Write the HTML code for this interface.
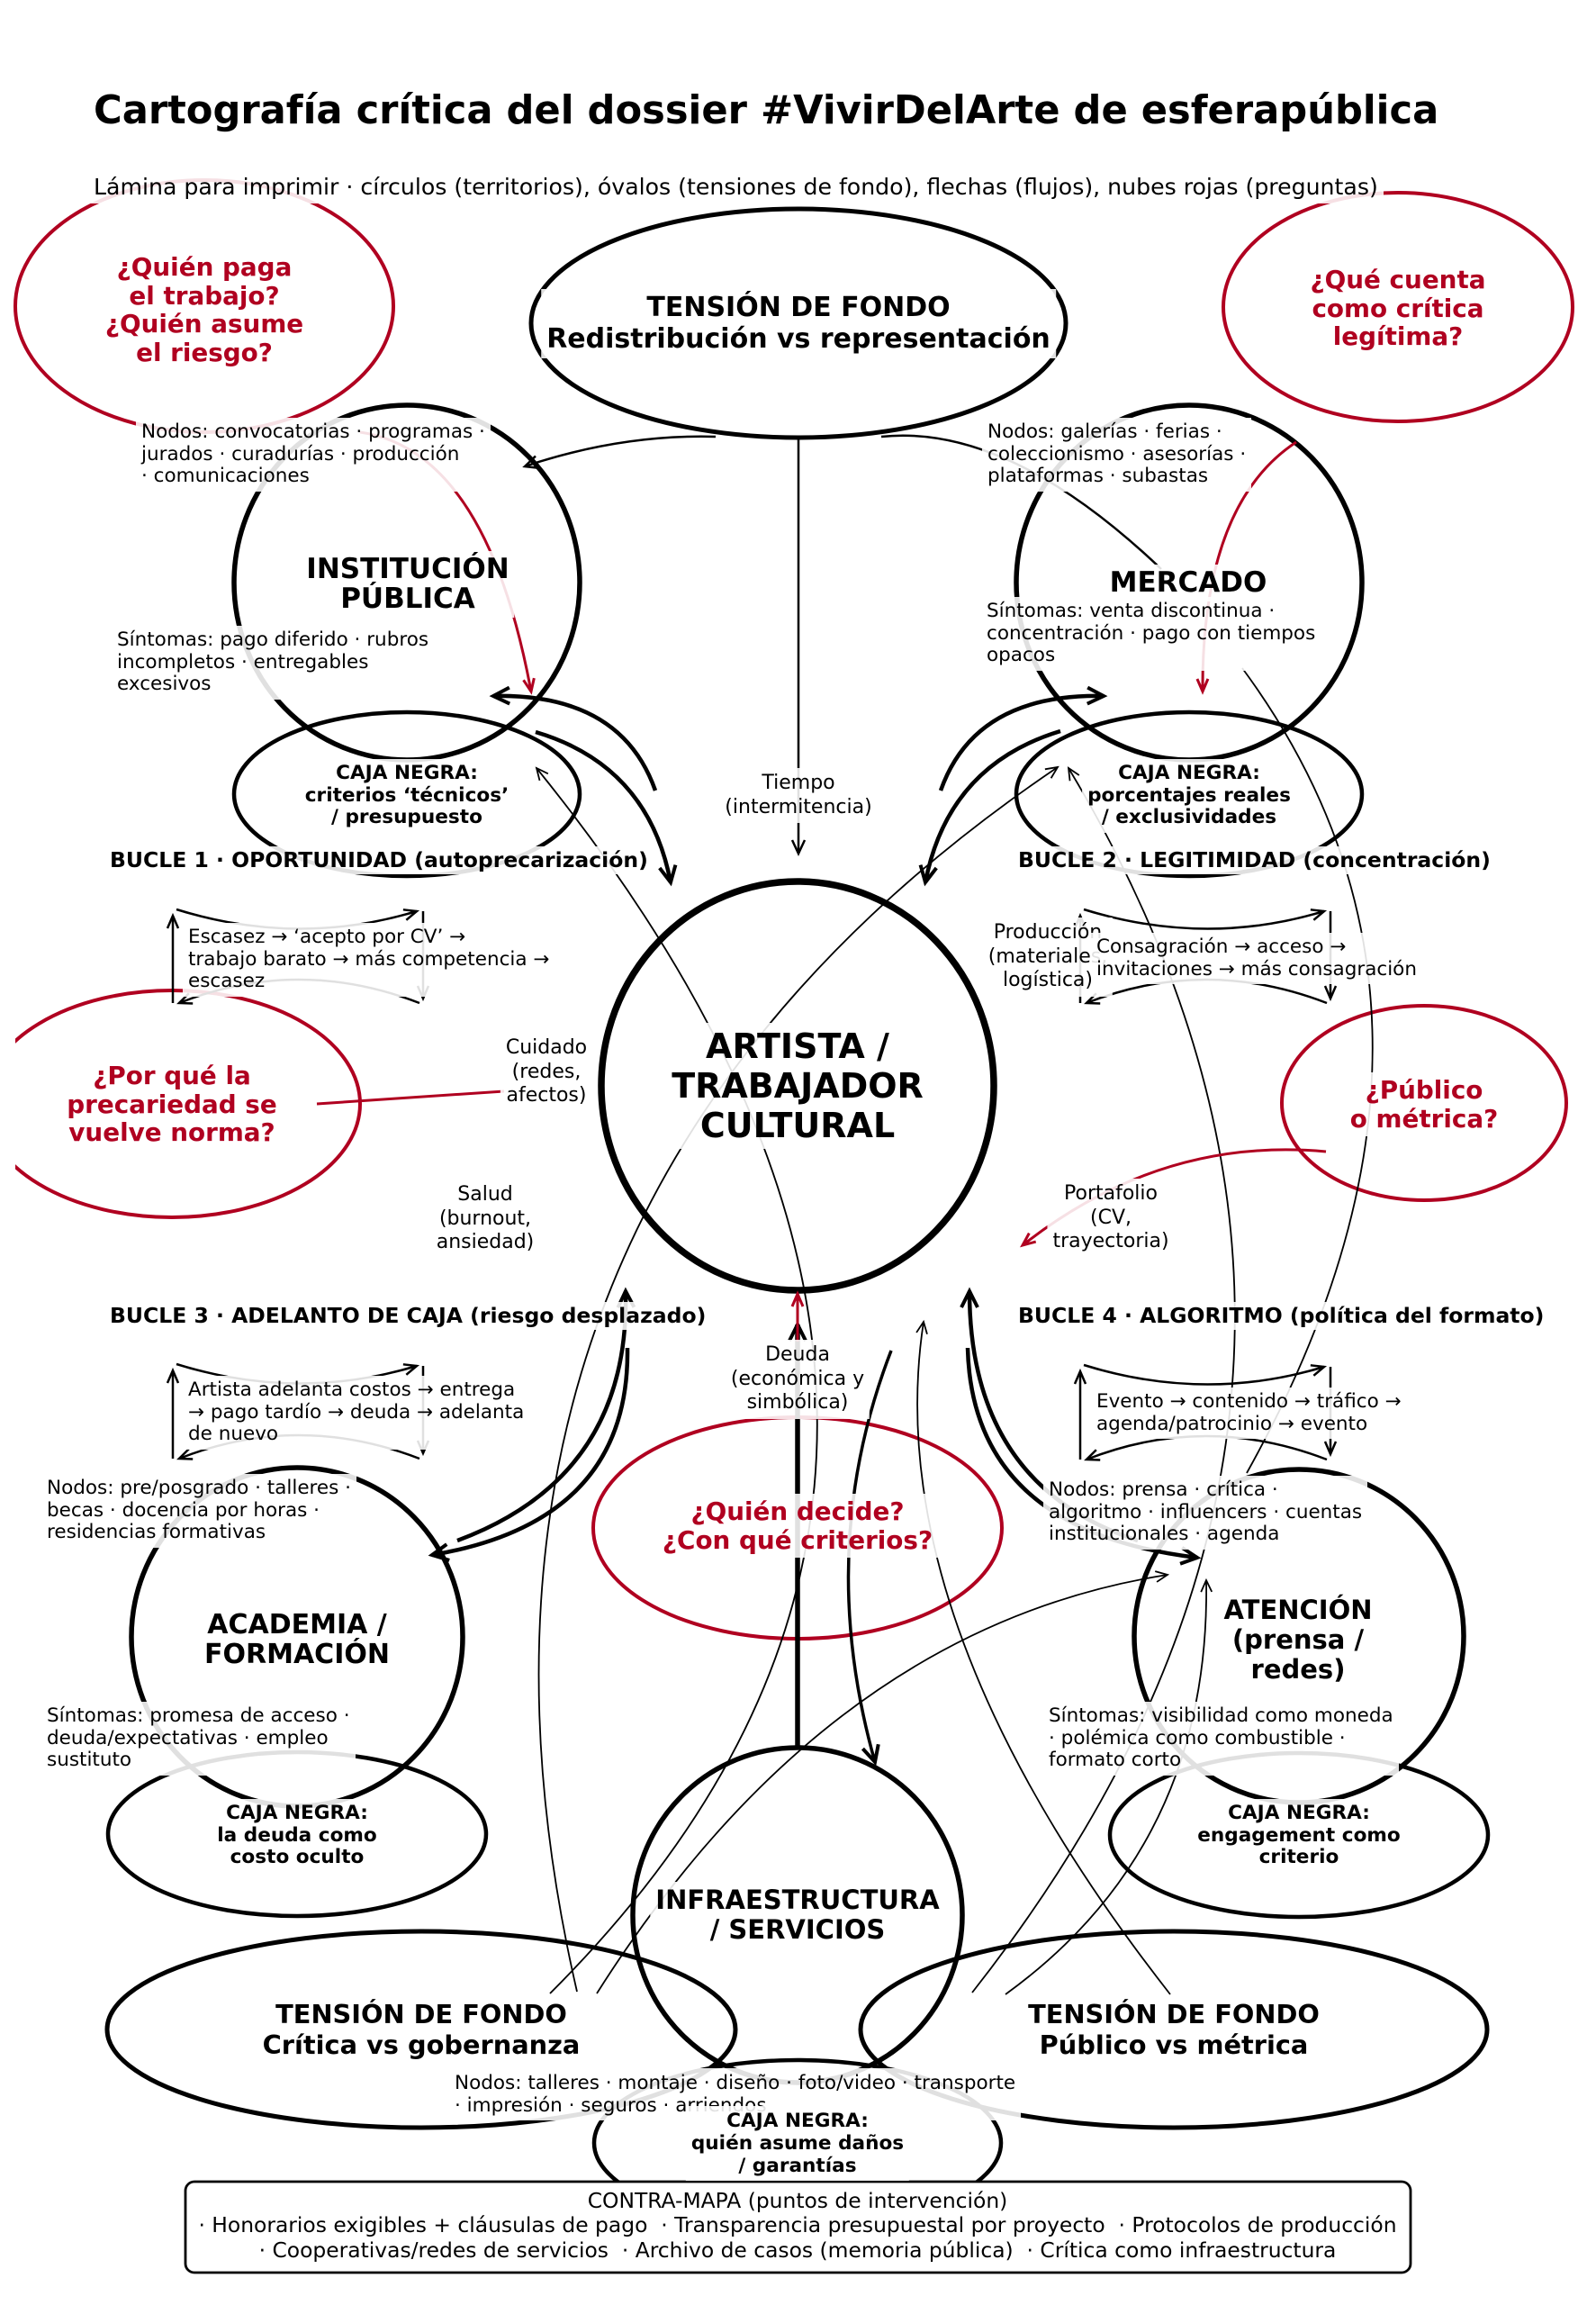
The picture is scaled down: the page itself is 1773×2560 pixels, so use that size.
<!DOCTYPE html>
<html><head><meta charset="utf-8">
<style>
html,body{margin:0;padding:0;background:#fff}
#w{position:relative;width:1773px;height:2560px;overflow:hidden;background:#fff}
svg{position:absolute;left:0;top:0}
.t{position:absolute;white-space:pre;background:rgba(255,255,255,0.88);padding:4px 6px;font-family:"DejaVu Sans","Liberation Sans",sans-serif;color:#000}
.c{transform:translateX(-50%);text-align:center}
.s{font-size:21.5px;line-height:24.5px}
.lab{font-size:22px;line-height:26.5px}
.cj{font-weight:bold;font-size:21.6px;line-height:24.5px}
.q{font-weight:bold;font-size:27.8px;line-height:31.5px;color:#b00020}
.terr{font-weight:bold;font-size:30px;line-height:33px}
.ten{font-weight:bold;font-size:30px;line-height:34.5px}
.tenb{font-weight:bold;font-size:28.8px;line-height:34px}
.art{font-weight:bold;font-size:38px;line-height:44px}
.bu{font-weight:bold;font-size:23.5px;line-height:27px;padding:2px 6px}
</style></head><body><div id="w">
<svg width="1773" height="2560" viewBox="0 0 1773 2560">
<defs>
<clipPath id="cl"><rect x="17" y="0" width="1756" height="2560"/></clipPath>
<marker id="ah" markerUnits="userSpaceOnUse" markerWidth="40" markerHeight="40" viewBox="-30 -20 40 40" refX="0" refY="0" orient="auto" style="overflow:visible"><path d="M-13,-6L0,0L-13,6" fill="none" stroke="#000" stroke-width="1.8"/></marker>
<marker id="am" markerUnits="userSpaceOnUse" markerWidth="40" markerHeight="40" viewBox="-30 -20 40 40" refX="0" refY="0" orient="auto" style="overflow:visible"><path d="M-15,-7L0,0L-15,7" fill="none" stroke="#000" stroke-width="2.5"/></marker>
<marker id="at" markerUnits="userSpaceOnUse" markerWidth="40" markerHeight="40" viewBox="-30 -20 40 40" refX="0" refY="0" orient="auto" style="overflow:visible"><path d="M-18,-9L0,0L-18,9" fill="none" stroke="#000" stroke-width="4"/></marker>
<marker id="ar" markerUnits="userSpaceOnUse" markerWidth="40" markerHeight="40" viewBox="-30 -20 40 40" refX="0" refY="0" orient="auto" style="overflow:visible"><path d="M-14,-6L0,0L-14,6" fill="none" stroke="#b00020" stroke-width="3"/></marker>
<marker id="al" markerUnits="userSpaceOnUse" markerWidth="40" markerHeight="40" viewBox="-30 -20 40 40" refX="0" refY="0" orient="auto" style="overflow:visible"><path d="M-14,-6L0,0L-14,6" fill="none" stroke="#000" stroke-width="2.5"/></marker>
</defs>
<g fill="none" stroke="#b00020" stroke-width="4">
<ellipse cx="227" cy="340" rx="210" ry="140"/>
<ellipse cx="1553" cy="341" rx="194" ry="127"/>
<ellipse cx="191" cy="1226" rx="209" ry="126" clip-path="url(#cl)"/>
<ellipse cx="1582" cy="1225" rx="158" ry="108"/>
<ellipse cx="886" cy="1697" rx="227" ry="123"/>
</g>
<g fill="none" stroke="#000">
<ellipse cx="887" cy="359" rx="297" ry="127" stroke-width="5"/>
<ellipse cx="452" cy="647" rx="192" ry="197" stroke-width="5.5"/>
<ellipse cx="1321" cy="647" rx="192" ry="197" stroke-width="5.5"/>
<ellipse cx="452" cy="882" rx="192" ry="91" stroke-width="4.5"/>
<ellipse cx="1321" cy="882" rx="192" ry="91" stroke-width="4.5"/>
<ellipse cx="886" cy="1206" rx="218" ry="227" stroke-width="7.5"/>
<ellipse cx="330" cy="1818" rx="184" ry="188" stroke-width="5.5"/>
<ellipse cx="1443" cy="1817" rx="183" ry="185" stroke-width="5.5"/>
<ellipse cx="330" cy="2037" rx="210" ry="91" stroke-width="4.5"/>
<ellipse cx="1443" cy="2038" rx="210" ry="91" stroke-width="4.5"/>
<ellipse cx="886" cy="2127" rx="183" ry="186" stroke-width="5.5"/>
<ellipse cx="468" cy="2254" rx="349" ry="109" stroke-width="5"/>
<ellipse cx="1304" cy="2254" rx="348" ry="109" stroke-width="5"/>
<ellipse cx="886" cy="2380" rx="226" ry="92" stroke-width="4.5"/>

<path d="M795,485 Q690,482 583,518" stroke-width="2.5" marker-end="url(#am)"/>
<path d="M979,485 Q1120,470 1290,632" stroke-width="2.5"/>
<path d="M887,486 L887,948" stroke-width="2.5" marker-end="url(#am)"/>

<path d="M728,878 Q690,770 548,773" stroke-width="4.5" marker-end="url(#at)"/>
<path d="M595,813 Q720,850 745,980" stroke-width="4.5" marker-end="url(#at)"/>
<path d="M1045,878 Q1083,770 1226,773" stroke-width="4.5" marker-end="url(#at)"/>
<path d="M1178,812 Q1053,850 1028,980" stroke-width="4.5" marker-end="url(#at)"/>
<path d="M508,1711 Q700,1640 695,1434" stroke-width="4.5" marker-end="url(#at)"/>
<path d="M697,1497 Q700,1690 480,1727" stroke-width="4.5" marker-end="url(#at)"/>
<path d="M1264,1711 Q1077,1650 1077,1434" stroke-width="4.5" marker-end="url(#at)"/>
<path d="M1075,1497 Q1080,1700 1330,1730" stroke-width="4.5" marker-end="url(#at)"/>
<path d="M990,1500 Q905,1720 972,1957" stroke-width="3.5" marker-end="url(#at)"/>
<path d="M886,1941 L886,1471" stroke-width="5.5" marker-end="url(#at)"/>

<path d="M611,2214 Q1212,1614 596,853" stroke-width="1.8" marker-end="url(#ah)"/>
<path d="M641,2212 Q442,1348 1175,852" stroke-width="1.8" marker-end="url(#ah)"/>
<path d="M663,2214 Q920,1808 1297,1749" stroke-width="1.8" marker-end="url(#ah)"/>
<path d="M1080,2213 Q1604,1547 1187,853" stroke-width="1.8" marker-end="url(#ah)"/>
<path d="M1117,2215 Q1345,2050 1340,1755" stroke-width="1.8" marker-end="url(#ah)"/>
<path d="M1300,2215 Q975,1800 1026,1468" stroke-width="1.8" marker-end="url(#ah)"/>
<path d="M1380,742 Q1667,1131 1385,1636" stroke-width="1.8"/>

<g stroke-width="2.5">
<path d="M196,1010 Q331,1052 463,1012" marker-end="url(#al)"/>
<path d="M470,1012 L470,1109" marker-end="url(#al)"/>
<path d="M466,1114 Q331,1062 199,1114" marker-end="url(#al)"/>
<path d="M192,1114 L192,1017" marker-end="url(#al)"/>

<path d="M1204,1010 Q1339,1052 1471,1012" marker-end="url(#al)"/>
<path d="M1478,1012 L1478,1109" marker-end="url(#al)"/>
<path d="M1474,1114 Q1339,1062 1207,1114" marker-end="url(#al)"/>
<path d="M1200,1114 L1200,1017" marker-end="url(#al)"/>

<path d="M196,1515 Q331,1557 463,1517" marker-end="url(#al)"/>
<path d="M470,1517 L470,1614" marker-end="url(#al)"/>
<path d="M466,1620 Q331,1568 199,1620" marker-end="url(#al)"/>
<path d="M192,1620 L192,1522" marker-end="url(#al)"/>

<path d="M1204,1516 Q1339,1558 1471,1518" marker-end="url(#al)"/>
<path d="M1478,1518 L1478,1615" marker-end="url(#al)"/>
<path d="M1474,1621 Q1339,1569 1207,1621" marker-end="url(#al)"/>
<path d="M1200,1621 L1200,1523" marker-end="url(#al)"/>
</g>
</g>
<g fill="none" stroke="#b00020" stroke-width="3">
<path d="M400,480 Q540,500 590,768" marker-end="url(#ar)"/>
<path d="M1440,491 Q1335,560 1336,768" marker-end="url(#ar)"/>
<path d="M352,1226 L560,1212"/>
<path d="M1473,1279 Q1290,1262 1136,1383" marker-end="url(#ar)"/>
<path d="M886,1490 L886,1437" marker-end="url(#ar)"/>
</g>
<rect x="206" y="2423" width="1361" height="101" rx="10" ry="10" fill="#fff" stroke="#000" stroke-width="2.8"/>
</svg>

<div class="t" style="left:98px;top:94px;font-weight:bold;font-size:43.2px;line-height:50px">Cartografía crítica del dossier #VivirDelArte de esferapública</div>
<div class="t" style="left:98px;top:188.5px;font-size:25.2px;line-height:29px">Lámina para imprimir · círculos (territorios), óvalos (tensiones de fondo), flechas (flujos), nubes rojas (preguntas)</div>

<div class="t c q" style="left:227px;top:277px">¿Quién paga
el trabajo?
¿Quién asume
el riesgo?</div>
<div class="t c ten" style="left:887px;top:321px">TENSIÓN DE FONDO
Redistribución vs representación</div>
<div class="t c q" style="left:1553px;top:291px">¿Qué cuenta
como crítica
legítima?</div>

<div class="t s" style="left:151px;top:464px">Nodos: convocatorias · programas ·
jurados · curadurías · producción
· comunicaciones</div>
<div class="t s" style="left:1091px;top:464px">Nodos: galerías · ferias ·
coleccionismo · asesorías ·
plataformas · subastas</div>

<div class="t c terr" style="left:453px;top:612px;font-size:31px">INSTITUCIÓN
PÚBLICA</div>
<div class="t c terr" style="left:1320px;top:627px;font-size:31px">MERCADO</div>

<div class="t s" style="left:124px;top:695px">Síntomas: pago diferido · rubros
incompletos · entregables
excesivos</div>
<div class="t s" style="left:1090px;top:663px">Síntomas: venta discontinua ·
concentración · pago con tiempos
opacos</div>

<div class="t c cj" style="left:452px;top:843px">CAJA NEGRA:
criterios ‘técnicos’
/ presupuesto</div>
<div class="t c cj" style="left:1321px;top:843px">CAJA NEGRA:
porcentajes reales
/ exclusividades</div>

<div class="t c lab" style="left:887px;top:853px">Tiempo
(intermitencia)</div>

<div class="t bu" style="left:116px;top:940px">BUCLE 1 · OPORTUNIDAD (autoprecarización)</div>
<div class="t bu" style="left:1125px;top:940px">BUCLE 2 · LEGITIMIDAD (concentración)</div>

<div class="t s" style="left:203px;top:1025px">Escasez → ‘acepto por CV’ →
trabajo barato → más competencia →
escasez</div>
<div class="t c lab" style="left:1164px;top:1019px">Producción
(materiales,
logística)</div>
<div class="t s" style="left:1212px;top:1036px">Consagración → acceso →
invitaciones → más consagración</div>

<div class="t c lab" style="left:607px;top:1147px">Cuidado
(redes,
afectos)</div>
<div class="t c art" style="left:886px;top:1136px">ARTISTA /
TRABAJADOR
CULTURAL</div>
<div class="t c q" style="left:191px;top:1175px">¿Por qué la
precariedad se
vuelve norma?</div>
<div class="t c q" style="left:1582px;top:1191px">¿Público
o métrica?</div>

<div class="t c lab" style="left:539px;top:1310px">Salud
(burnout,
ansiedad)</div>
<div class="t c lab" style="left:1234px;top:1309px">Portafolio
(CV,
trayectoria)</div>

<div class="t bu" style="left:116px;top:1446px">BUCLE 3 · ADELANTO DE CAJA (riesgo desplazado)</div>
<div class="t bu" style="left:1125px;top:1446px">BUCLE 4 · ALGORITMO (política del formato)</div>

<div class="t c lab" style="left:886px;top:1488px">Deuda
(económica y
simbólica)</div>

<div class="t s" style="left:203px;top:1528px">Artista adelanta costos → entrega
→ pago tardío → deuda → adelanta
de nuevo</div>
<div class="t s" style="left:1212px;top:1541px">Evento → contenido → tráfico →
agenda/patrocinio → evento</div>

<div class="t s" style="left:46px;top:1637px">Nodos: pre/posgrado · talleres ·
becas · docencia por horas ·
residencias formativas</div>
<div class="t s" style="left:1159px;top:1639px">Nodos: prensa · crítica ·
algoritmo · influencers · cuentas
institucionales · agenda</div>

<div class="t c q" style="left:886px;top:1659px">¿Quién decide?
¿Con qué criterios?</div>

<div class="t c terr" style="left:330px;top:1784px">ACADEMIA /
FORMACIÓN</div>
<div class="t c terr" style="left:1442px;top:1768px;font-size:29px">ATENCIÓN
(prensa /
redes)</div>

<div class="t s" style="left:46px;top:1890px">Síntomas: promesa de acceso ·
deuda/expectativas · empleo
sustituto</div>
<div class="t s" style="left:1159px;top:1890px">Síntomas: visibilidad como moneda
· polémica como combustible ·
formato corto</div>

<div class="t c cj" style="left:330px;top:1998px">CAJA NEGRA:
la deuda como
costo oculto</div>
<div class="t c cj" style="left:1443px;top:1998px">CAJA NEGRA:
engagement como
criterio</div>

<div class="t c terr" style="left:886px;top:2090px;font-size:29px">INFRAESTRUCTURA
/ SERVICIOS</div>

<div class="t c tenb" style="left:468px;top:2216px">TENSIÓN DE FONDO
Crítica vs gobernanza</div>
<div class="t c tenb" style="left:1304px;top:2216px">TENSIÓN DE FONDO
Público vs métrica</div>

<div class="t s" style="left:499px;top:2297px;line-height:25px">Nodos: talleres · montaje · diseño · foto/video · transporte
· impresión · seguros · arriendos</div>
<div class="t c cj" style="left:886px;top:2339px;line-height:25px">CAJA NEGRA:
quién asume daños
/ garantías</div>

<div class="t c" style="left:886px;top:2427px;font-size:23.4px;line-height:27.3px;background:transparent">CONTRA-MAPA (puntos de intervención)
· Honorarios exigibles + cláusulas de pago  · Transparencia presupuestal por proyecto  · Protocolos de producción
· Cooperativas/redes de servicios  · Archivo de casos (memoria pública)  · Crítica como infraestructura</div>
</div></body></html>
